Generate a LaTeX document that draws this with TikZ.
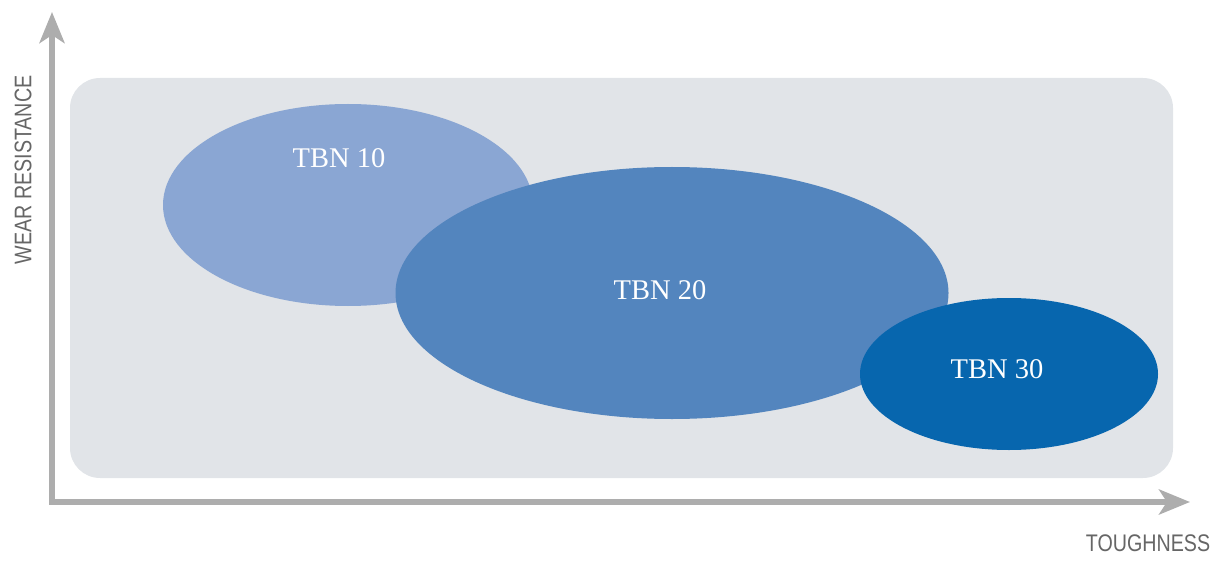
\documentclass[tikz,border=0pt]{standalone}
\usepackage{fontspec}
\setmainfont{Liberation Serif}
\newfontfamily\axisfont[FakeStretch=0.82]{Liberation Sans}
\usetikzlibrary{shapes.geometric,arrows.meta}
\definecolor{panel}{HTML}{E1E4E8}
\definecolor{axisgray}{HTML}{ADADAD}
\definecolor{labelgray}{HTML}{666666}
\definecolor{tbnA}{HTML}{8AA6D3}
\definecolor{tbnB}{HTML}{5385BE}
\definecolor{tbnC}{HTML}{0766AE}
\tikzset{
  blob/.style={ellipse, inner sep=0pt, draw=none},
  blobtext/.style={text=white, font=\fontsize{28.5}{31}\selectfont, inner sep=0pt},
  axislabel/.style={text=labelgray, font=\axisfont\fontsize{24}{27}\selectfont, inner sep=0pt},
  axisline/.style={draw=axisgray, line width=6pt, line join=miter,
    {Stealth[length=31pt,width=25pt,inset=8pt]}-{Stealth[length=31pt,width=25pt,inset=8pt]}}
}
\begin{document}
\begin{tikzpicture}[x=1pt,y=-1pt]
\useasboundingbox (0,0) rectangle (1222,561);
\fill[panel, rounded corners=30pt] (70,78) rectangle (1173,478);
\node[blob, fill=tbnA, minimum width=370pt, minimum height=202pt] (e1) at (348,205) {};
\node[blob, fill=tbnB, minimum width=553pt, minimum height=252pt] (e2) at (672,293) {};
\node[blob, fill=tbnC, minimum width=298pt, minimum height=152pt] (e3) at (1009,374) {};
\node[blobtext] (t1) at (339,158) {TBN 10};
\node[blobtext] (t2) at (660,290) {TBN 20};
\node[blobtext] (t3) at (997,369) {TBN 30};
\coordinate (top) at (52,12);
\coordinate (corner) at (52,502);
\coordinate (right) at (1190,502);
\draw[axisline] (top) -- (corner) -- (right);
\node[axislabel, rotate=90] (wr) at (23,170) {WEAR RESISTANCE};
\node[axislabel] (tg) at (1148,543) {TOUGHNESS};
\end{tikzpicture}
\end{document}
